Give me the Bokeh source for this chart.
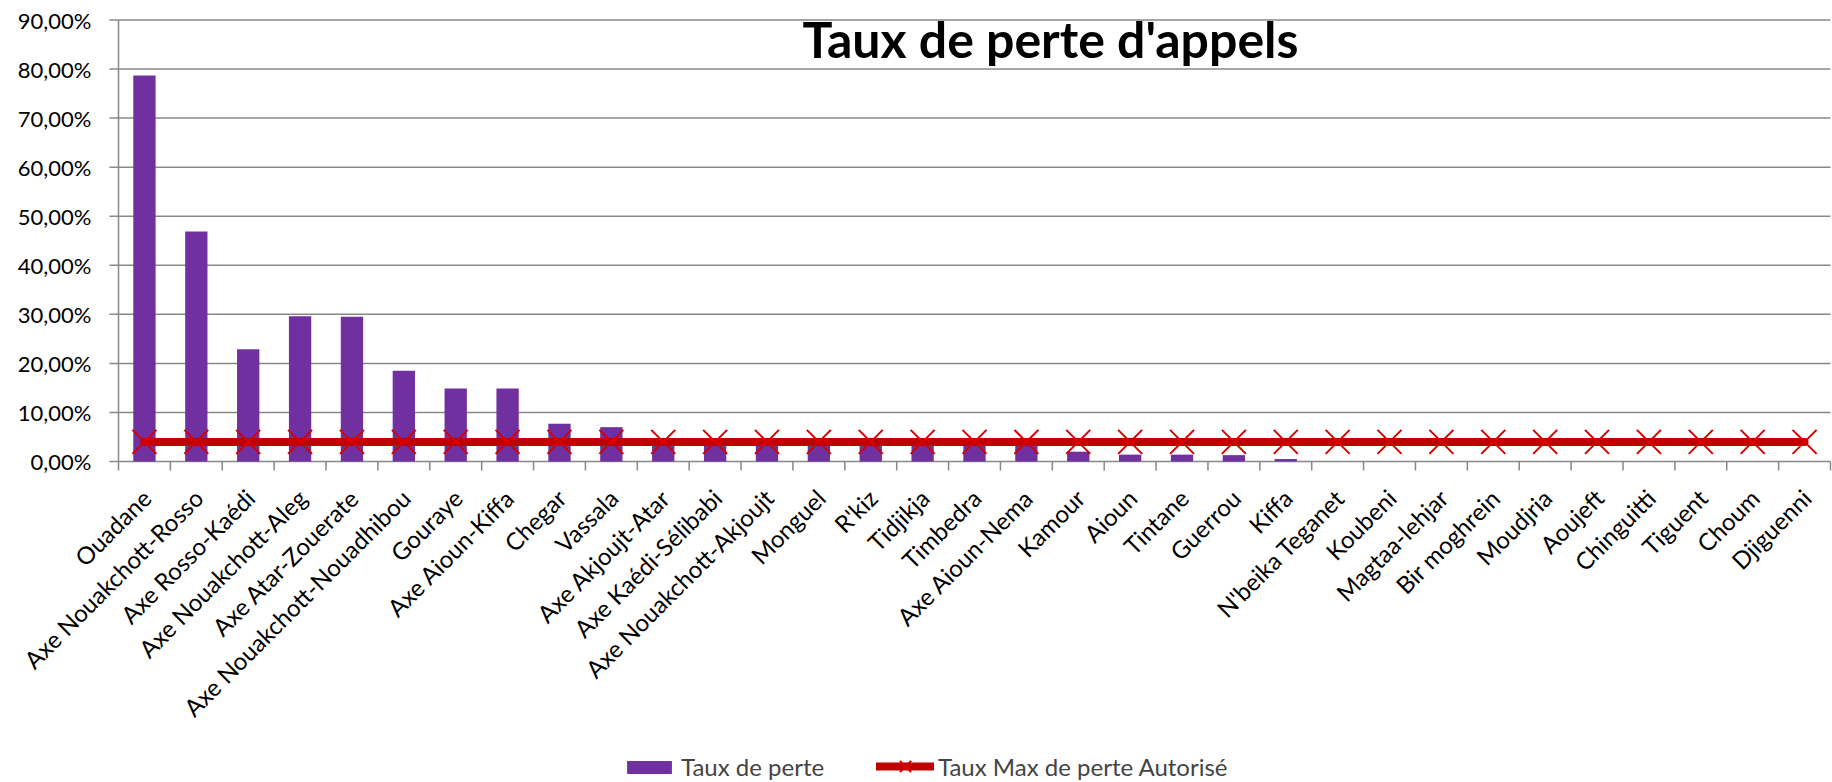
import math
from bokeh.plotting import figure
from bokeh.models import Range1d, Legend, LegendItem, Label
from bokeh.core.properties import value
from bokeh.embed import file_html
from bokeh.resources import INLINE

# ---- data ----
categories = [
    "Ouadane", "Axe Nouakchott-Rosso", "Axe Rosso-Kaédi", "Axe Nouakchott-Aleg",
    "Axe Atar-Zouerate", "Axe Nouakchott-Nouadhibou", "Gouraye", "Axe Aioun-Kiffa",
    "Chegar", "Vassala", "Axe Akjoujt-Atar", "Axe Kaédi-Sélibabi",
    "Axe Nouakchott-Akjoujt", "Monguel", "R'kiz", "Tidjikja", "Timbedra",
    "Axe Aioun-Nema", "Kamour", "Aioun", "Tintane", "Guerrou", "Kiffa",
    "N'beika Teganet", "Koubeni", "Magtaa-lehjar", "Bir moghrein", "Moudjria",
    "Aoujeft", "Chinguitti", "Tiguent", "Choum", "Djiguenni",
]
taux_de_perte = [78.7, 46.9, 22.9, 29.6, 29.5, 18.5, 14.9, 14.9, 7.7, 7.0,
                 4.2, 4.0, 4.1, 3.9, 3.8, 3.7, 3.6, 3.5, 2.0, 1.4,
                 1.4, 1.3, 0.5, 0.0, 0.0, 0.0, 0.0, 0.0, 0.0, 0.0,
                 0.0, 0.0, 0.0]
taux_max_autorise = [4.0, 4.0, 4.0, 4.0, 4.0, 4.0, 4.0, 4.0, 4.0, 4.0,
                     4.0, 4.0, 4.0, 4.0, 4.0, 4.0, 4.0, 4.0, 4.0, 4.0,
                     4.0, 4.0, 4.0, 4.0, 4.0, 4.0, 4.0, 4.0, 4.0, 4.0,
                     4.0, 4.0, 4.0]
y_ticks = [0, 10, 20, 30, 40, 50, 60, 70, 80, 90]
y_tick_labels = ["0,00%", "10,00%", "20,00%", "30,00%", "40,00%",
                 "50,00%", "60,00%", "70,00%", "80,00%", "90,00%"]
title_text = "Taux de perte d'appels"
series_names = ["Taux de perte", "Taux Max de perte Autorisé"]

FONT = "Lato"
GRAY = "#888888"
PURPLE = "#7030A0"
RED = "#C00000"

n = len(categories)
idx = list(range(n))                       # category centre positions
bounds = [i - 0.5 for i in range(n + 1)]   # category boundaries (tick marks)
x_lo, x_hi = -0.5, n - 0.5                 # plotting area in category units
y_lo, y_hi = y_ticks[0], y_ticks[-1]

# ---- layout (pixels) ----
W, H = 1832, 782
AREA_LEFT, AREA_RIGHT = 118, 1830          # px of category area
Y_TOP_PX, Y_ZERO_PX = 19.5, 461.0          # px of 90 % and 0 %
ppx = (AREA_RIGHT - AREA_LEFT) / n
ppy = (Y_ZERO_PX - Y_TOP_PX) / (y_hi - y_lo)

p = figure(width=W, height=H,
           x_range=Range1d(x_lo - AREA_LEFT / ppx, x_hi + (W - AREA_RIGHT) / ppx),
           y_range=Range1d(-(H - Y_ZERO_PX) / ppy, y_hi + Y_TOP_PX / ppy),
           x_axis_location=None, y_axis_location=None,
           output_backend="svg", toolbar_location=None,
           min_border=0, min_border_left=0, min_border_right=0,
           min_border_top=0, min_border_bottom=0)
p.outline_line_color = None
p.background_fill_color = "white"
p.border_fill_color = "white"
p.xgrid.visible = False
p.ygrid.visible = False

# horizontal gridlines over the category area
p.segment(x0=[x_lo] * len(y_ticks), x1=[x_hi] * len(y_ticks), y0=y_ticks, y1=y_ticks,
          line_color=GRAY, line_width=1.5)
# vertical axis line
p.segment(x0=[x_lo], x1=[x_lo], y0=[y_lo], y1=[y_hi], line_color=GRAY, line_width=1.5)

# y tick marks and labels
p.ray(x=[x_lo] * len(y_ticks), y=y_ticks, length=9, length_units="screen",
      angle=math.pi, line_color=GRAY, line_width=1.5)
p.text(x=[x_lo] * len(y_ticks), y=y_ticks, text=y_tick_labels,
       x_offset=-27, text_align="right", text_baseline="middle",
       text_font=value(FONT), text_font_size="22px", text_color="black")

# category boundary tick marks under the 0 line
p.ray(x=bounds, y=[0] * len(bounds), length=9, length_units="screen",
      angle=-math.pi / 2, line_color=GRAY, line_width=1.5)

# bars and line
bars = p.vbar(x=idx, top=taux_de_perte, width=0.43,
              fill_color=PURPLE, line_color=None)
line = p.line(x=idx, y=taux_max_autorise, line_color=RED,
              line_width=8, line_cap="round")
pts = p.scatter(x=idx, y=taux_max_autorise, marker="x", size=34,
                line_color="#D40000", line_width=2)

# rotated category labels
p.text(x=idx, y=[0] * n, text=categories, angle=math.pi / 4,
       x_offset=2, y_offset=32,
       text_align="right", text_baseline="middle",
       text_font=value(FONT), text_font_size="24px", text_color="black")

# title
title = Label(x=1050, y=744, x_units="screen", y_units="screen", text=title_text,
              text_font=FONT, text_font_style="bold", text_font_size="50px",
              text_align="center", text_baseline="alphabetic", text_color="black")
p.add_layout(title)

legend_style = dict(orientation="horizontal", padding=0, margin=0,
                    label_standoff=4, label_text_font=FONT,
                    label_text_font_size="24px",
                    border_line_color=None, background_fill_alpha=0)
legend_bars = Legend(items=[LegendItem(label=series_names[0], renderers=[bars])],
                     location=(621, 1), glyph_width=56, glyph_height=16,
                     label_height=16, **legend_style)
legend_line = Legend(items=[LegendItem(label=series_names[1], renderers=[line, pts])],
                     location=(876, -4), glyph_width=58, glyph_height=40,
                     label_height=16, **legend_style)
p.add_layout(legend_bars)
p.add_layout(legend_line)

open("out.html", "w", encoding="utf-8").write(file_html(p, INLINE))
